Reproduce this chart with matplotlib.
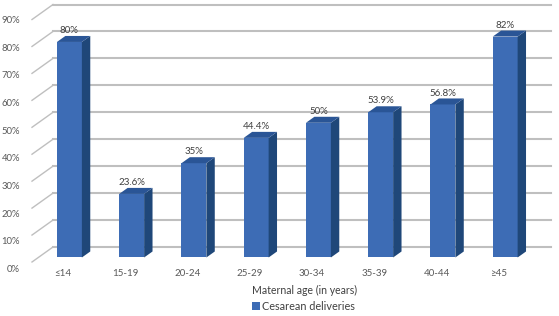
"""
Cesarean deliveries by maternal age -- pseudo-3D column chart.
"""

import matplotlib
matplotlib.use("Agg")
import matplotlib.pyplot as plt
from matplotlib.patches import Polygon

plt.rcParams["font.family"] = ["Lato", "DejaVu Sans"]

# ---------------------------------------------------------------------------
# Data
# ---------------------------------------------------------------------------

age_groups = ["≤14", "15-19", "20-24", "25-29", "30-34", "35-39", "40-44", "≥45"]
cesarean_pct = [80, 23.6, 35, 44.4, 50, 53.9, 56.8, 82]
value_labels = ["80%", "23.6%", "35%", "44.4%", "50%", "53.9%", "56.8%", "82%"]
y_ticks = [0, 10, 20, 30, 40, 50, 60, 70, 80, 90]

series_name = "Cesarean deliveries"
x_title = "Maternal age (in years)"

# ---------------------------------------------------------------------------
# Style
# ---------------------------------------------------------------------------

_FRONT = "#3D6CB5"
_SIDE = "#1F4779"
_TOP = "#2A5596"
_GRID = "#BFBFBF"
_TICK = "#595959"
_LABEL = "#404040"

# pixel scale of the front plane (used to express 3D offsets in data units)
_PX_X = 62.25   # px per category
_PX_Y = 2.694   # px per percent


def _dx(px):
    return px / _PX_X


def _dy(px):
    return px / _PX_Y


# depth offsets (px right, px up)
_WALL = (_dx(14.7), _dy(10.5))
_FLOOR = (_dx(-6.3), _dy(-4.5))
_BAR = (_dx(8.4), _dy(6.0))
_BAR_W = 0.40

fig = plt.figure(figsize=(5.59, 3.16), dpi=100)
ax = fig.add_axes([38.3 / 559, 36.95 / 316, 498 / 559, 280.2 / 316])
ax.set_xlim(-0.5, 7.5)
ax.set_ylim(-8, 96)
ax.axis("off")

x = list(range(len(age_groups)))

# back wall gridlines + diagonal floor/side lines
for v in y_ticks:
    ax.plot([-0.5 + _WALL[0], 7.5 + _WALL[0]], [v + _WALL[1]] * 2,
            color=_GRID, lw=1.5, zorder=1, clip_on=False)
    ax.plot([-0.5 + _FLOOR[0], -0.5 + _WALL[0]], [v + _FLOOR[1], v + _WALL[1]],
            color=_GRID, lw=1.0, zorder=1, clip_on=False)
    # y tick labels use their own (slightly wider) spacing
    ty = _dy(257.5 - (269.3 - 2.762 * v))
    ax.text(-0.5 + _dx(-18.3), ty, f"{v}%", ha="right", va="center",
            fontsize=6.8, color=_TICK, clip_on=False)

# bars: front face + side + top
bars = ax.bar(x, cesarean_pct, width=_BAR_W, color=_FRONT, zorder=3,
              label=series_name)
for xi, v, lab in zip(x, cesarean_pct, value_labels):
    r = xi + _BAR_W / 2
    l = xi - _BAR_W / 2
    side = Polygon([(r, 0), (r + _BAR[0], _BAR[1]), (r + _BAR[0], v + _BAR[1]), (r, v)],
                   closed=True, facecolor=_SIDE, edgecolor="none", zorder=3)
    top = Polygon([(l, v), (r, v), (r + _BAR[0], v + _BAR[1]), (l + _BAR[0], v + _BAR[1])],
                  closed=True, facecolor=_TOP, edgecolor="none", zorder=3)
    ax.add_patch(side)
    ax.add_patch(top)
    ax.text(xi, v + _dy(11.3), lab, ha="center", va="center",
            fontsize=7, color=_LABEL, zorder=4)

# category labels
for xi, lab in zip(x, age_groups):
    ax.text(xi + _FLOOR[0], _dy(257.5 - 274), lab, ha="center", va="center",
            fontsize=7, color=_TICK, clip_on=False)

fig.text(305 / 559, 1 - 290 / 316, x_title, ha="center", va="center",
         fontsize=7.6, color=_LABEL)

fig.legend(handles=[bars], labels=[series_name], loc="center left",
           bbox_to_anchor=(252 / 559, 1 - 306 / 316), frameon=False,
           fontsize=7.8, handlelength=0.7, handleheight=0.7,
           handletextpad=0.25, borderpad=0, borderaxespad=0,
           labelcolor=_LABEL)

fig.savefig("out.png", dpi=100)
